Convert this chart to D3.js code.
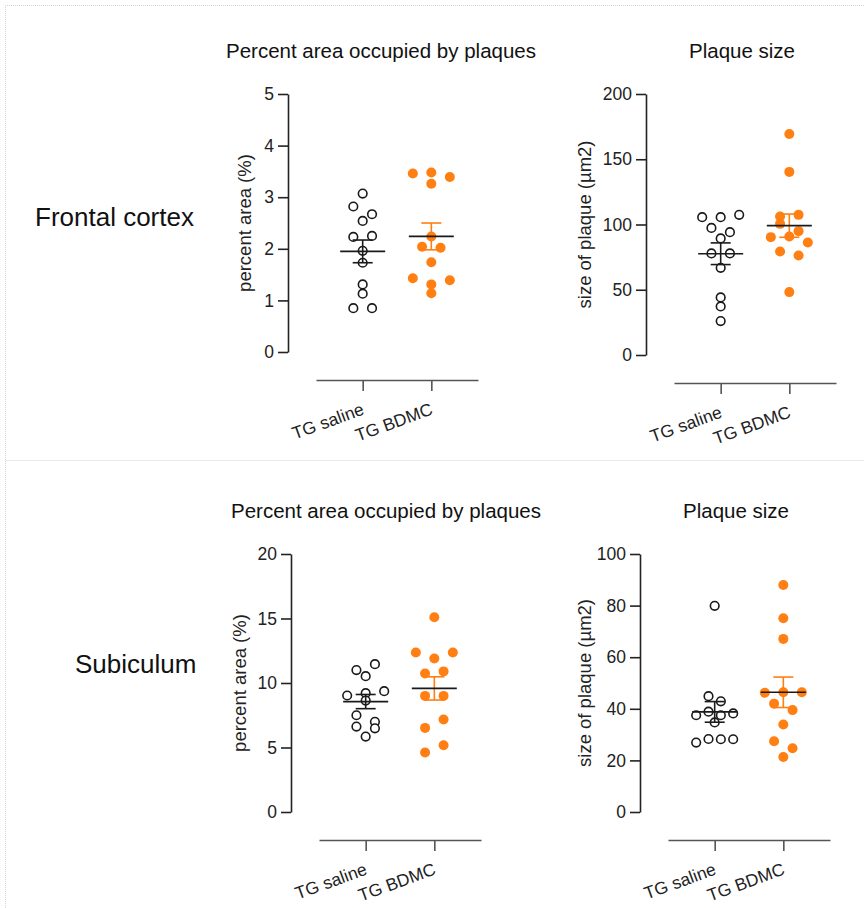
<!DOCTYPE html>
<html>
<head>
<meta charset="utf-8">
<script src="https://cdn.jsdelivr.net/npm/d3@7"></script>
<style>
  body { margin: 0; background: #fff; }
  svg { display: block; font-family: "Liberation Sans", Arial, sans-serif; }
</style>
</head>
<body>
<div id="chart"></div>
<script>
// groups on every x axis
var groups = ["TG saline", "TG BDMC"];

// Frontal cortex - percent area occupied by plaques (%)
var fcAreaSaline = [3.07, 2.82, 2.67, 2.54, 2.23, 2.25, 1.96, 1.73, 1.31, 1.13, 0.85, 0.85];
var fcAreaBdmc   = [3.46, 3.48, 3.39, 3.26, 2.24, 2.04, 2.02, 1.74, 1.43, 1.31, 1.39, 1.14];
var fcAreaMean   = [1.95, 2.24];
var fcAreaSem    = [0.22, 0.26];
var fcAreaTicks  = [0, 1, 2, 3, 4, 5];

// Frontal cortex - plaque size (µm2)
var fcSizeSaline = [105.6, 105.6, 107.4, 97.4, 89.3, 94.1, 77.8, 77.8, 66.8, 44.1, 37.2, 26.0];
var fcSizeBdmc   = [169.4, 140.3, 106.1, 107.4, 100.5, 90.3, 94.9, 90.8, 86.2, 79.3, 76.3, 48.2];
var fcSizeMean   = [77.6, 99.1];
var fcSizeSem    = [8.3, 8.9];
var fcSizeTicks  = [0, 50, 100, 150, 200];

// Subiculum - percent area occupied by plaques (%)
var subAreaSaline = [11.0, 11.46, 10.53, 9.03, 9.21, 9.37, 8.64, 7.5, 6.99, 6.62, 6.49, 5.85];
var subAreaBdmc   = [15.09, 12.37, 11.9, 12.37, 10.74, 10.9, 9.0, 9.0, 6.52, 7.17, 4.61, 5.18];
var subAreaMean   = [8.56, 9.58];
var subAreaSem    = [0.55, 0.9];
var subAreaTicks  = [0, 5, 10, 15, 20];

// Subiculum - plaque size (µm2)
var subSizeSaline = [79.9, 44.9, 42.9, 37.5, 38.9, 37.5, 38.2, 34.7, 26.9, 28.3, 28.2, 28.2];
var subSizeBdmc   = [88.0, 75.1, 67.1, 46.2, 46.4, 46.4, 42.0, 39.5, 33.9, 27.4, 24.7, 21.3];
var subSizeMean   = [38.8, 46.4];
var subSizeSem    = [4.0, 5.9];
var subSizeTicks  = [0, 20, 40, 60, 80, 100];

var orange = "#ff7f12";
var ink = "#1a1a1a";
var font = "'Liberation Sans', Arial, sans-serif";

var svg = d3.select("#chart")
  .append("svg")
    .attr("width", 864)
    .attr("height", 908);

// dotted section frames
var frame = svg.append("g")
  .attr("fill", "none")
  .attr("stroke", "#d4d4d4")
  .attr("stroke-width", 1)
  .attr("stroke-dasharray", "1,1");
frame.append("path").attr("d", "M5.5,908V5.5H870");
frame.append("path").attr("d", "M5.5,460.5H870");

// row labels
svg.append("text")
  .attr("x", 35).attr("y", 226)
  .attr("font-size", 26).attr("fill", "#111")
  .text("Frontal cortex");
svg.append("text")
  .attr("x", 75).attr("y", 673)
  .attr("font-size", 26).attr("fill", "#111")
  .text("Subiculum");

var panels = [
  {title: "Percent area occupied by plaques", ylab: "percent area (%)",
   saline: fcAreaSaline, bdmc: fcAreaBdmc, mean: fcAreaMean, sem: fcAreaSem, ticks: fcAreaTicks,
   ax: 288, top: 94, h: 258, labX: -43, titleX: 93},
  {title: "Plaque size", ylab: "size of plaque (µm2)",
   saline: fcSizeSaline, bdmc: fcSizeBdmc, mean: fcSizeMean, sem: fcSizeSem, ticks: fcSizeTicks,
   ax: 646, top: 94, h: 261, labX: -61, titleX: 96},
  {title: "Percent area occupied by plaques", ylab: "percent area (%)",
   saline: subAreaSaline, bdmc: subAreaBdmc, mean: subAreaMean, sem: subAreaSem, ticks: subAreaTicks,
   ax: 291, top: 554, h: 258, labX: -51, titleX: 95},
  {title: "Plaque size", ylab: "size of plaque (µm2)",
   saline: subSizeSaline, bdmc: subSizeBdmc, mean: subSizeMean, sem: subSizeSem, ticks: subSizeTicks,
   ax: 640, top: 554, h: 258, labX: -55, titleX: 96}
];

// spread points of similar value side by side (rows of a scatter column)
function spread(values, y) {
  var order = values.map(function(v, i) { return i; })
    .sort(function(a, b) { return values[b] - values[a]; });
  var rows = [], cur = null;
  order.forEach(function(i) {
    if (cur && y(values[i]) - y(values[cur[0]]) < 9) cur.push(i);
    else { cur = [i]; rows.push(cur); }
  });
  var maxRow = d3.max(rows, function(r) { return r.length; });
  var step = maxRow > 1 ? Math.min(18.7, 37 / (maxRow - 1)) : 0;
  var off = new Array(values.length);
  rows.forEach(function(r) {
    r.sort(function(a, b) { return a - b; });
    r.forEach(function(i, k) { off[i] = (k - (r.length - 1) / 2) * step; });
  });
  return off;
}

panels.forEach(function(p) {
  var g = svg.append("g");
  var y = d3.scaleLinear()
    .domain([0, d3.max(p.ticks)])
    .range([p.top + p.h, p.top]);
  var x0 = p.ax + 28;
  var x = d3.scalePoint()
    .domain(groups)
    .range([x0, x0 + 162])
    .padding(0.68);

  // title
  g.append("text")
    .attr("x", p.ax + p.titleX).attr("y", p.top - 36)
    .attr("text-anchor", "middle")
    .attr("font-size", 20.5).attr("fill", "#111")
    .text(p.title);

  // Y axis
  var yAxis = g.append("g")
    .attr("transform", "translate(" + p.ax + ",0)")
    .call(d3.axisLeft(y).tickValues(p.ticks).tickFormat(d3.format("d"))
      .tickSize(10).tickSizeOuter(0).tickPadding(4));
  yAxis.selectAll("path,line").attr("stroke", "#222").attr("stroke-width", 1.6);
  yAxis.selectAll("text").attr("font-size", 17.5).attr("fill", "#222")
    .style("font-family", font);

  g.append("text")
    .attr("transform", "translate(" + (p.ax + p.labX) + "," + (p.top + p.h / 2) + ") rotate(-90)")
    .attr("text-anchor", "middle")
    .attr("dy", "0.35em")
    .attr("font-size", 18.5).attr("fill", "#222")
    .text(p.ylab);

  // X axis
  var xAxis = g.append("g")
    .attr("transform", "translate(0," + (p.top + p.h + 28) + ")")
    .call(d3.axisBottom(x).tickSize(11).tickSizeOuter(0));
  xAxis.selectAll("path,line").attr("stroke", "#555").attr("stroke-width", 1.6);
  xAxis.selectAll("text")
    .attr("x", 0).attr("y", 0).attr("dy", 0)
    .attr("transform", "translate(2,34) rotate(-20)")
    .style("text-anchor", "end")
    .style("font-family", font)
    .attr("font-size", 17.5).attr("fill", "#222");

  // points
  var offS = spread(p.saline, y);
  g.append("g").selectAll("circle")
    .data(p.saline)
    .enter()
    .append("circle")
      .attr("cx", function(d, i) { return x(groups[0]) + offS[i]; })
      .attr("cy", function(d) { return y(d); })
      .attr("r", 4.3)
      .attr("fill", "#fff")
      .attr("stroke", ink)
      .attr("stroke-width", 1.6);

  var offB = spread(p.bdmc, y);
  g.append("g").selectAll("circle")
    .data(p.bdmc)
    .enter()
    .append("circle")
      .attr("cx", function(d, i) { return x(groups[1]) + offB[i]; })
      .attr("cy", function(d) { return y(d); })
      .attr("r", 5)
      .attr("fill", orange);

  // mean and SEM
  groups.forEach(function(grp, gi) {
    var cx = x(grp), m = p.mean[gi], s = p.sem[gi];
    var col = gi === 0 ? ink : orange;
    var eb = g.append("g").attr("stroke", col).attr("stroke-width", 1.6);
    eb.append("line").attr("x1", cx).attr("x2", cx).attr("y1", y(m - s)).attr("y2", y(m + s));
    eb.append("line").attr("x1", cx - 10).attr("x2", cx + 10).attr("y1", y(m + s)).attr("y2", y(m + s));
    eb.append("line").attr("x1", cx - 10).attr("x2", cx + 10).attr("y1", y(m - s)).attr("y2", y(m - s));
    g.append("line")
      .attr("x1", cx - 22.5).attr("x2", cx + 22.5)
      .attr("y1", y(m)).attr("y2", y(m))
      .attr("stroke", ink).attr("stroke-width", 1.6);
  });
});
</script>
</body>
</html>
